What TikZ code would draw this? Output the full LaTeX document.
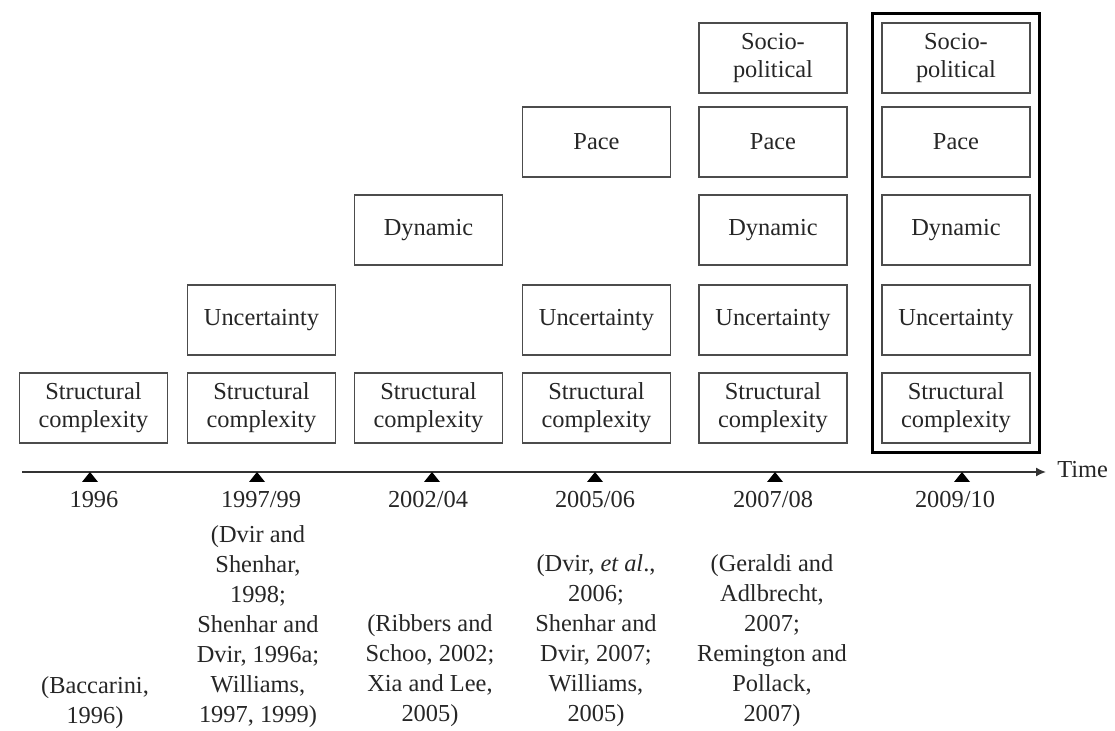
\documentclass[tikz,border=0pt]{standalone}
\usepackage{fontspec}
\setmainfont{Liberation Serif}
\usetikzlibrary{arrows.meta,fit}
\begin{document}
\begin{tikzpicture}[x=0.5pt,y=-0.5pt,
  dimbox/.style={draw=black!70, line width=0.8pt, minimum width=74pt, minimum height=35pt,
    align=center, inner sep=1pt, font=\fontsize{12.2}{14}\selectfont, text=black!85},
  yearlbl/.style={font=\fontsize{12.2}{15}\selectfont, text=black!85, inner sep=0pt},
  citelbl/.style={font=\fontsize{12.2}{15}\selectfont, align=center, text=black!85, inner sep=0pt},
  tickmark/.style={fill=black},
  axisline/.style={draw=black!80, line width=0.8pt, -{Latex[length=5pt,width=4.5pt]}},
  framebox/.style={draw=black, line width=1.5pt, inner sep=4.5pt}
]
\useasboundingbox (0,0) rectangle (1115,731);

% column 1
\node[dimbox] (st1) at (93.5,408) {Structural\\complexity};
% column 2
\node[dimbox] (st2) at (261.5,408) {Structural\\complexity};
\node[dimbox] (un2) at (261.5,320) {Uncertainty};
% column 3
\node[dimbox] (st3) at (428.5,408) {Structural\\complexity};
\node[dimbox] (dy3) at (428.5,230) {Dynamic};
% column 4
\node[dimbox] (st4) at (596.5,408) {Structural\\complexity};
\node[dimbox] (un4) at (596.5,320) {Uncertainty};
\node[dimbox] (pa4) at (596.5,142) {Pace};
% column 5
\node[dimbox] (st5) at (773,408) {Structural\\complexity};
\node[dimbox] (un5) at (773,320) {Uncertainty};
\node[dimbox] (dy5) at (773,230) {Dynamic};
\node[dimbox] (pa5) at (773,142) {Pace};
\node[dimbox] (so5) at (773,58) {Socio-\\political};
% column 6
\node[dimbox] (st6) at (956,408) {Structural\\complexity};
\node[dimbox] (un6) at (956,320) {Uncertainty};
\node[dimbox] (dy6) at (956,230) {Dynamic};
\node[dimbox] (pa6) at (956,142) {Pace};
\node[dimbox] (so6) at (956,58) {Socio-\\political};
\node[framebox, fit=(so6)(st6)] (frame) {};

% time axis
\coordinate (axs) at (22,472);
\coordinate (axe) at (1046,472);
\node[yearlbl, anchor=west] (time) at (1057,470) {Time};
\draw[axisline] (axs) -- (axe);

% ticks
\foreach \tx in {90,257,432,595,775,962}
  \fill[tickmark] (\tx,472) -- (\tx-8,482) -- (\tx+8,482) -- cycle;

% years
\node[yearlbl] (y1) at (94,500) {1996};
\node[yearlbl] (y2) at (261,500) {1997/99};
\node[yearlbl] (y3) at (428,500) {2002/04};
\node[yearlbl] (y4) at (595,500) {2005/06};
\node[yearlbl] (y5) at (773,500) {2007/08};
\node[yearlbl] (y6) at (955,500) {2009/10};

% citations
\node[citelbl] (c1) at (95,703) {(Baccarini,\\1996)};
\node[citelbl] (c2) at (258,626.5) {(Dvir and\\Shenhar,\\1998;\\Shenhar and\\Dvir, 1996a;\\Williams,\\1997, 1999)};
\node[citelbl] (c3) at (430,671) {(Ribbers and\\Schoo, 2002;\\Xia and Lee,\\2005)};
\node[citelbl] (c4) at (596,641) {(Dvir, \textit{et al}.,\\2006;\\Shenhar and\\Dvir, 2007;\\Williams,\\2005)};
\node[citelbl] (c5) at (772,641) {(Geraldi and\\Adlbrecht,\\2007;\\Remington and\\Pollack,\\2007)};
\end{tikzpicture}
\end{document}
